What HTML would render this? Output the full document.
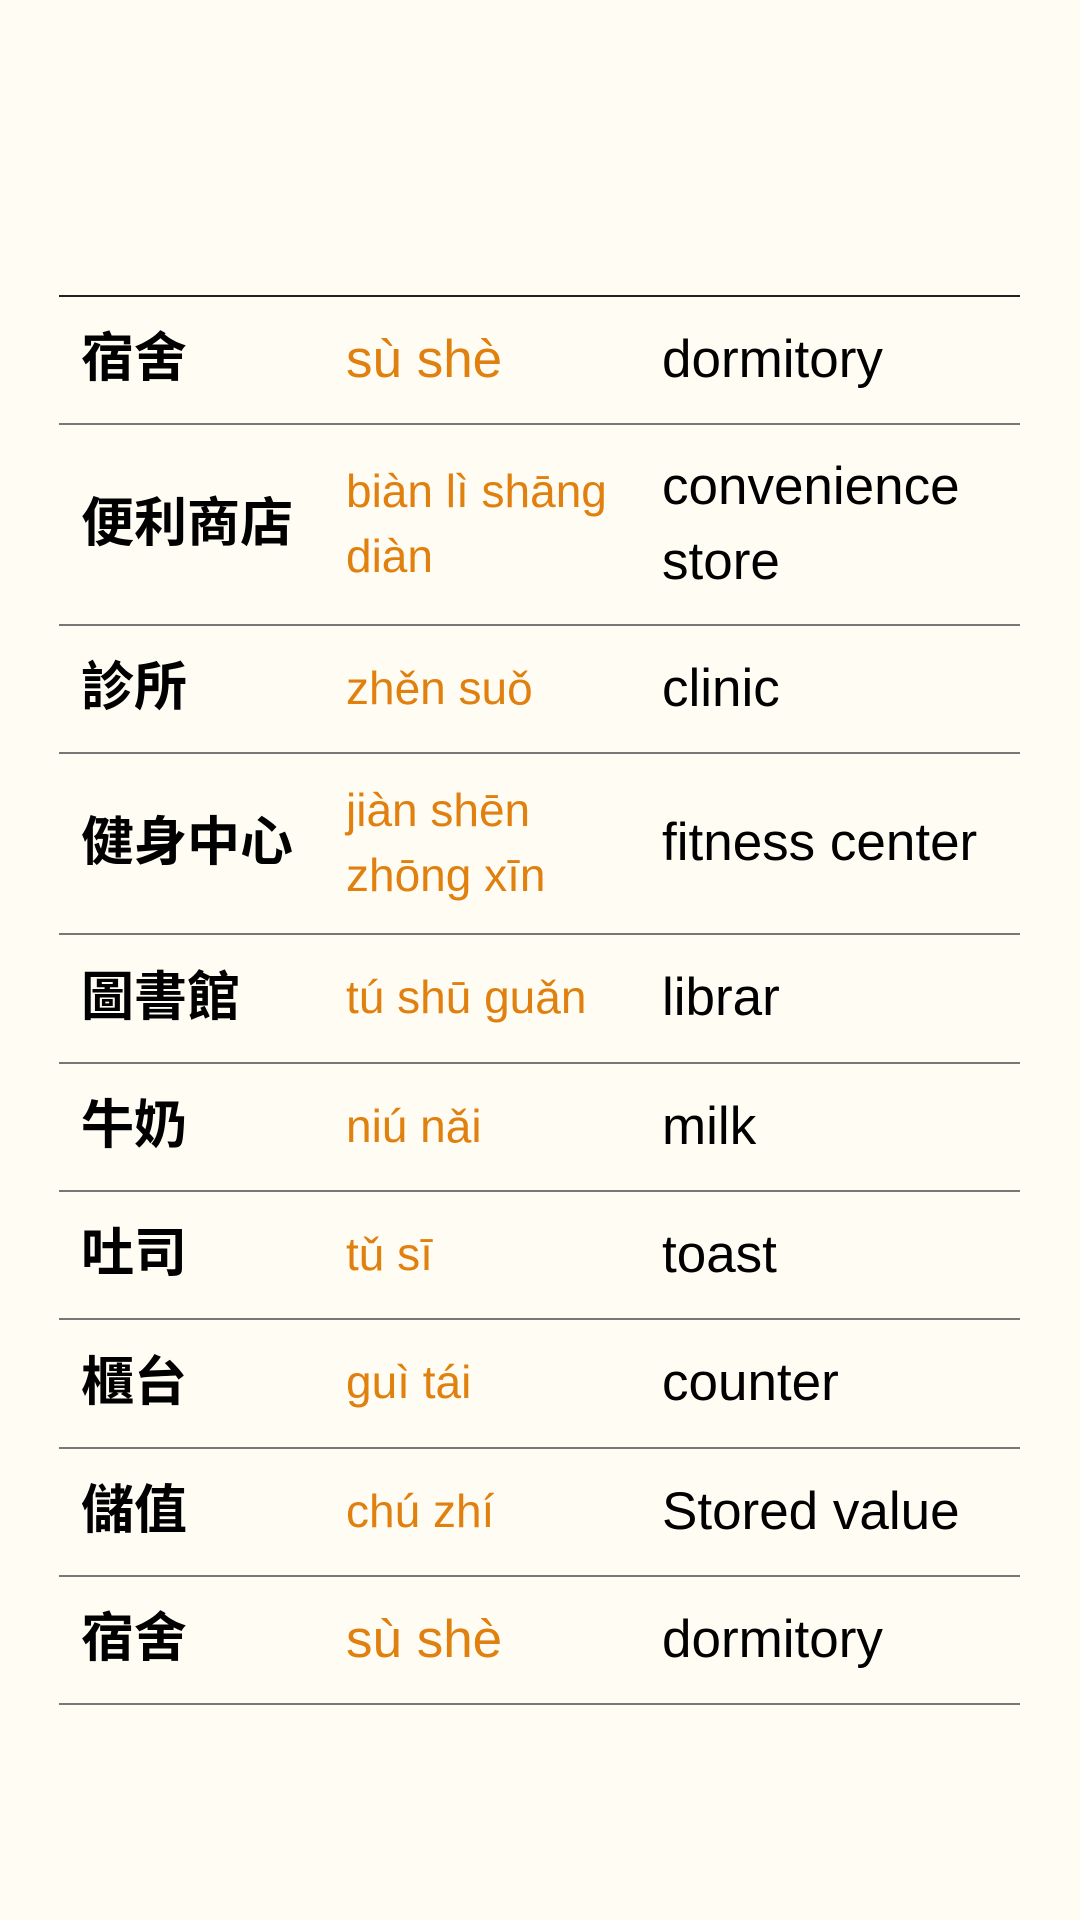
<!DOCTYPE html>
<html><head><meta charset="utf-8"><style>
html,body{margin:0;padding:0;background:#fffcf4;width:1080px;height:1920px;overflow:hidden}
.tbl{position:absolute;left:59px;top:295px;width:961px;border-top:2px solid #222}
.row{display:flex;align-items:center;border-bottom:2px solid #777;box-sizing:border-box}
.zh{width:287px;padding-left:22px;box-sizing:border-box;font-family:"Liberation Sans","Noto Sans CJK TC",sans-serif;font-weight:bold;font-size:53px;color:#000;position:relative;top:-6px}
.py{width:316px;font-family:"Liberation Sans",sans-serif;font-size:46px;line-height:65px;color:#e0800f;position:relative;top:-1px}
.py.big{font-size:53px}
.en{width:358px;font-family:"Liberation Sans",sans-serif;font-size:53px;line-height:75px;color:#000;position:relative;top:-1px}
</style></head><body>
<div class="tbl">
<div class="row" style="height:128px"><div class="zh">宿舍</div><div class="py big">sù shè</div><div class="en">dormitory</div></div>
<div class="row" style="height:201px"><div class="zh">便利商店</div><div class="py">biàn lì shāng<br>diàn</div><div class="en">convenience<br>store</div></div>
<div class="row" style="height:128px"><div class="zh">診所</div><div class="py">zhěn suǒ</div><div class="en">clinic</div></div>
<div class="row" style="height:181px"><div class="zh">健身中心</div><div class="py">jiàn shēn<br>zhōng xīn</div><div class="en">fitness center</div></div>
<div class="row" style="height:129px"><div class="zh">圖書館</div><div class="py">tú shū guǎn</div><div class="en">librar</div></div>
<div class="row" style="height:128px"><div class="zh">牛奶</div><div class="py">niú nǎi</div><div class="en">milk</div></div>
<div class="row" style="height:128px"><div class="zh">吐司</div><div class="py">tǔ sī</div><div class="en">toast</div></div>
<div class="row" style="height:129px"><div class="zh">櫃台</div><div class="py">guì tái</div><div class="en">counter</div></div>
<div class="row" style="height:128px"><div class="zh">儲值</div><div class="py">chú zhí</div><div class="en">Stored value</div></div>
<div class="row" style="height:128px"><div class="zh">宿舍</div><div class="py big">sù shè</div><div class="en">dormitory</div></div>
</div>
</body></html>
